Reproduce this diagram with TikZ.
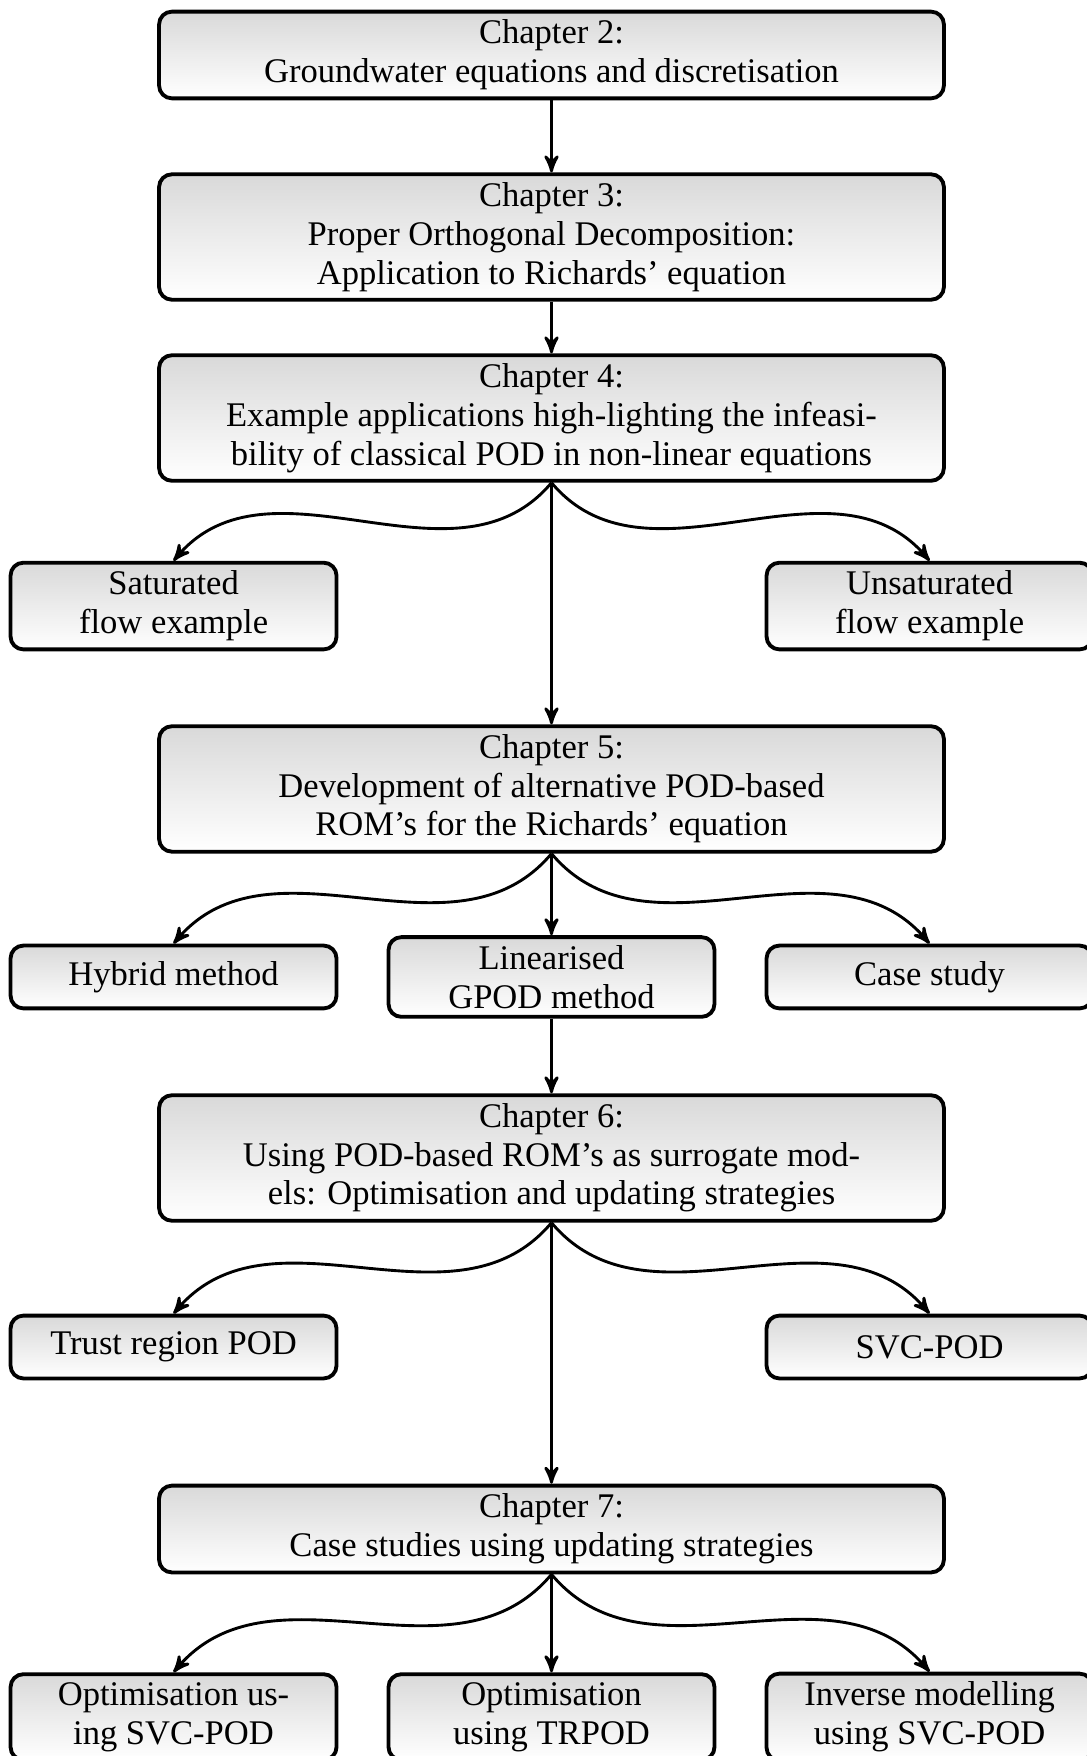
\documentclass[tikz,border=0pt]{standalone}
\usepackage{fontspec}
\setmainfont{Liberation Serif}
\usepackage{xcolor}
\usepackage{tikz}
\usetikzlibrary{arrows}
\definecolor{box-top}{HTML}{D9D9D9}
\definecolor{box-line}{HTML}{000000}

\begin{document}
\begin{tikzpicture}[
    font=\fontsize{10.8}{12.1}\selectfont,
    chapbox/.style={draw=box-line, very thick, rounded corners=4pt,
        top color=box-top, bottom color=white, align=center,
        minimum width=8.62cm, minimum height=0.69cm, inner ysep=2.6pt},
    subbox/.style={chapbox, minimum width=3.58cm},
    flow/.style={->, >=stealth', line width=0.9pt, box-line}
]
    \useasboundingbox (0,0) rectangle (11.938,-19.286);

    % Chapters down the middle
    \node[chapbox] (ch2) at (6.057,-0.604) {Chapter 2:\\Groundwater equations and discretisation};
    \node[chapbox] (ch3) at (6.057,-2.603) {Chapter 3:\\Proper Orthogonal Decomposition:\\Application to Richards' equation};
    \node[chapbox] (ch4) at (6.057,-4.591) {Chapter 4:\\Example applications high-lighting the infeasi-\\bility of classical POD in non-linear equations};
    \node[chapbox] (ch5) at (6.057,-8.665) {Chapter 5:\\Development of alternative POD-based\\ROM's for the Richards' equation};
    \node[chapbox] (ch6) at (6.057,-12.718) {Chapter 6:\\Using POD-based ROM's as surrogate mod-\\els: Optimisation and updating strategies};
    \node[chapbox] (ch7) at (6.057,-16.793) {Chapter 7:\\Case studies using updating strategies};

    % Side topics
    \node[subbox] (sat) at (1.906,-6.656) {Saturated\\flow example};
    \node[subbox] (unsat) at (10.209,-6.656) {Unsaturated\\flow example};
    \node[subbox] (hybrid) at (1.906,-10.730) {Hybrid method};
    \node[subbox] (lin) at (6.057,-10.730) {Linearised\\GPOD method};
    \node[subbox] (case) at (10.209,-10.730) {Case study};
    \node[subbox] (trust) at (1.906,-14.794) {Trust region POD};
    \node[subbox] (svc) at (10.209,-14.794) {SVC-POD};
    \node[subbox] (optsvc) at (1.906,-18.858) {Optimisation us-\\ing SVC-POD};
    \node[subbox] (optrpod) at (6.057,-18.858) {Optimisation\\using TRPOD};
    \node[subbox] (invsvc) at (10.209,-18.858) {Inverse modelling\\using SVC-POD};

    % Straight links
    \foreach \a/\b in {ch2/ch3, ch3/ch4, ch4/ch5, ch5/lin, lin/ch6, ch6/ch7, ch7/optrpod}
        \draw[flow] (\a.south) -- (\b.north);

    % Curved links to the sides
    \foreach \a/\l/\r in {ch4/sat/unsat, ch5/hybrid/case, ch6/trust/svc, ch7/optsvc/invsvc} {
        \draw[flow] (\a.south) to[out=-130, in=50] (\l.north);
        \draw[flow] (\a.south) to[out=-50, in=130] (\r.north);
    }
\end{tikzpicture}
\end{document}
